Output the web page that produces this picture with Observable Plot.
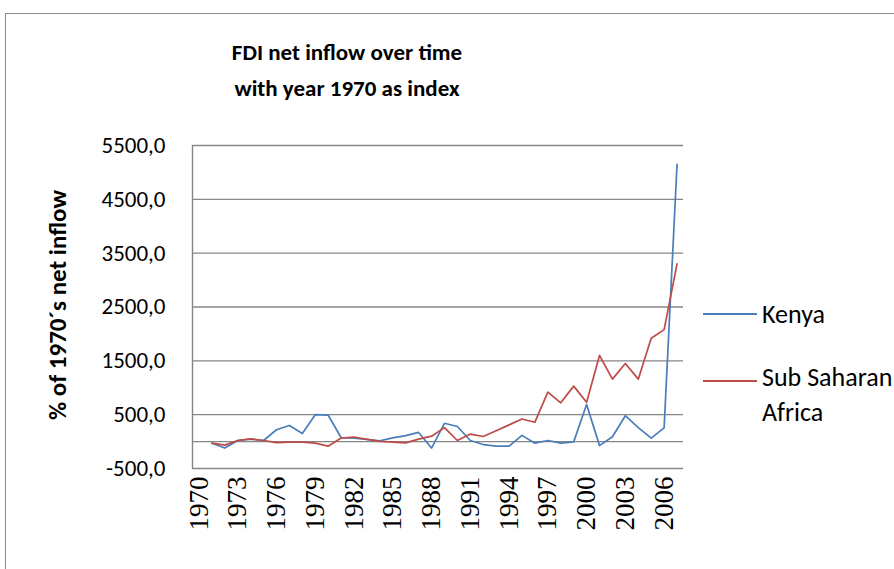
<!DOCTYPE html>
<html><head><meta charset="utf-8">
<script src="https://cdn.jsdelivr.net/npm/d3@7"></script>
<script src="https://cdn.jsdelivr.net/npm/@observablehq/plot@0.6"></script>
<style>
body{margin:0;background:#fff;}
#wrap{position:relative;width:894px;height:569px;overflow:hidden;font-family:Calibri,Carlito,Lato,sans-serif;color:#000;}
#frame{position:absolute;left:5px;top:13px;width:1000px;height:1000px;border:1px solid #8c8c8c;}
#title{position:absolute;left:97px;width:500px;top:34px;text-align:center;font-weight:bold;font-size:23px;line-height:36px;}
#ylab{position:absolute;left:-92px;top:290px;width:300px;height:30px;line-height:30px;text-align:center;font-weight:bold;font-size:25px;transform:rotate(-90deg);}
.lg{position:absolute;font-size:26px;line-height:35px;white-space:nowrap;}
.sw{position:absolute;height:0;width:54px;}
#chart{position:absolute;left:0;top:0;}
</style></head>
<body>
<div id="wrap">
  <div id="frame"></div>
  <div id="chart"></div>
  <div id="title">FDI net inflow over time<br>with year 1970 as index</div>
  <div id="ylab">% of 1970´s net inflow</div>
  <div class="sw" style="left:703px;top:313px;border-top:2px solid #4a7ebb;"></div>
  <div class="lg" style="left:762px;top:297px;">Kenya</div>
  <div class="sw" style="left:703px;top:380px;border-top:2px solid #be4b48;"></div>
  <div class="lg" style="left:762px;top:360px;">Sub Saharan<br>Africa</div>
</div>
<script>
const years = [1971,1972,1973,1974,1975,1976,1977,1978,1979,1980,1981,1982,1983,1984,1985,1986,1987,1988,1989,1990,1991,1992,1993,1994,1995,1996,1997,1998,1999,2000,2001,2002,2003,2004,2005,2006,2007];
const kenya = [-30,-120,20,45,20,220,300,150,500,490,75,65,40,15,70,110,170,-120,340,280,20,-55,-85,-85,115,-30,20,-30,-5,690,-75,90,480,260,65,255,5150];
const ssa = [-30,-65,20,50,20,-20,-10,-10,-30,-85,65,85,40,5,-10,-25,45,100,260,20,140,95,200,310,420,360,920,720,1030,730,1600,1160,1450,1160,1920,2080,3300];
const xTickYears = [1970,1973,1976,1979,1982,1985,1988,1991,1994,1997,2000,2003,2006];
const yTicks = [-500,500,1500,2500,3500,4500,5500];
const seriesNames = ["Kenya","Sub Saharan Africa"];
const seriesColors = ["#4a7ebb","#be4b48"];

const rows = [];
years.forEach((yr,i)=>{
  rows.push({year:yr, value:kenya[i], series:seriesNames[0]});
  rows.push({year:yr, value:ssa[i], series:seriesNames[1]});
});

const grid = "#868686";
const chart = Plot.plot({
  width: 894, height: 569,
  marginLeft: 192, marginRight: 211, marginTop: 145, marginBottom: 101,
  x: {domain: [1969.5, 2007.5]},
  y: {domain: [-500, 5500]},
  color: {domain: seriesNames, range: seriesColors},
  marks: [
    Plot.ruleY(yTicks, {stroke: grid, strokeWidth: 1.4}),
    Plot.ruleY([0], {stroke: grid, strokeWidth: 1.4}),
    Plot.ruleX([1969.5], {stroke: grid, strokeWidth: 1.4}),
    Plot.axisX({ticks: xTickYears, tickFormat: d => String(d), tickSize: 0, tickPadding: 8, tickRotate: -90, fontSize: 27, fontFamily: "Liberation Serif, Times New Roman, serif", label: null}),
    Plot.axisY({ticks: yTicks, tickFormat: d => d.toFixed(1).replace(".", ","), tickSize: 0, tickPadding: 27, fontSize: 23, fontFamily: "Calibri, Carlito, Lato, sans-serif", label: null}),
    Plot.lineY(rows, {x: "year", y: "value", z: "series", stroke: "series", strokeWidth: 1.7})
  ]
});
chart.style.color = "#000";
document.getElementById("chart").appendChild(chart);
</script>
</body></html>
